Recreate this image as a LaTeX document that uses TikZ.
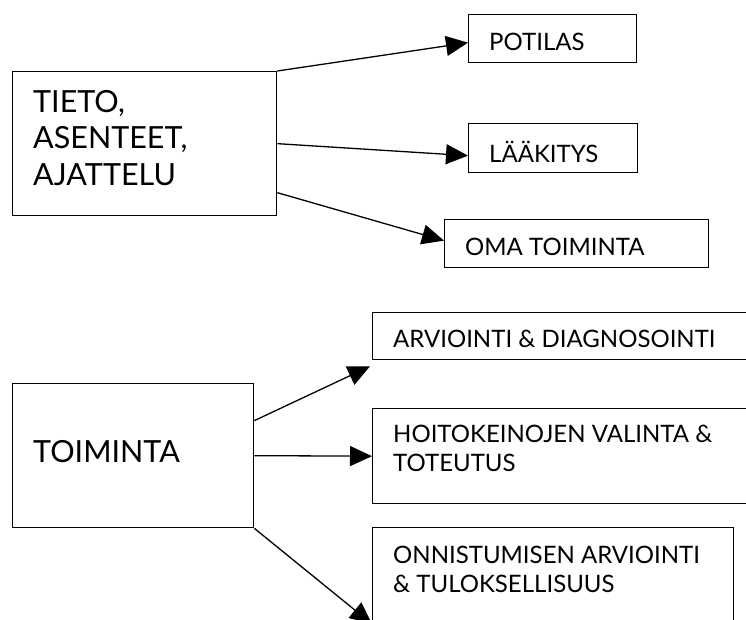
\documentclass[tikz,border=0pt]{standalone}
\usepackage{fontspec}
\setmainfont{Lato}
\usetikzlibrary{arrows.meta,positioning,calc}

\tikzset{
  boks/.style={draw, line width=1.3pt, inner sep=0pt, anchor=north west},
  iso/.style={font=\fontsize{30.5}{36.5}\selectfont, anchor=base west, align=left, inner sep=0pt},
  pieni/.style={font=\fontsize{24}{29}\selectfont, anchor=base west, align=left, inner sep=0pt},
  nuoli/.style={line width=1.3pt, -{Triangle[length=22pt,width=20pt]}}
}

\begin{document}
\begin{tikzpicture}[x=1pt,y=-1pt]
    \useasboundingbox (0,0) rectangle (746,619);
    \clip (0,0) rectangle (746,619);

    % ylempi kaavio
    \node[boks,minimum width=264,minimum height=144] (tieto) at (12,71) {};
    \node[iso] (tietoteksti) at (33,185) {TIETO,\\ASENTEET,\\AJATTELU};
    \node[boks,minimum width=168,minimum height=48] (potilas) at (468,14) {};
    \node[pieni] (potilasteksti) at (489,50) {POTILAS};
    \node[boks,minimum width=169,minimum height=49] (laakitys) at (468,123) {};
    \node[pieni] (laakitysteksti) at (489,162) {LÄÄKITYS};
    \node[boks,minimum width=264,minimum height=48] (oma) at (444,219) {};
    \node[pieni] (omateksti) at (465,255) {OMA TOIMINTA};

    \draw[nuoli] (tieto.north east) -- ([yshift=-4pt]potilas.west);
    \draw[nuoli] (tieto.east) -- ([yshift=-7.5pt]laakitys.west);
    \draw[nuoli] ([yshift=-49pt]tieto.east) -- ([yshift=3pt]oma.west);

    % alempi kaavio
    \node[boks,minimum width=241,minimum height=144] (toiminta) at (12,383) {};
    \node[iso] (toimintateksti) at (33,462) {TOIMINTA};
    \node[boks,minimum width=420,minimum height=47] (arviointi) at (372,312) {};
    \node[pieni] (arviointiteksti) at (393,347) {ARVIOINTI \& DIAGNOSOINTI};
    \node[boks,minimum width=420,minimum height=95] (hoito) at (372,408) {};
    \node[pieni] (hoitoteksti) at (393,471) {HOITOKEINOJEN VALINTA \&\\TOTEUTUS};
    \node[boks,minimum width=361,minimum height=150] (onnistuminen) at (372,527) {};
    \node[pieni] (onnistuminenteksti) at (393,592) {ONNISTUMISEN ARVIOINTI\\\& TULOKSELLISUUS};
    \coordinate (alakulma) at ([yshift=-97pt]onnistuminen.north west);

    \draw[nuoli] ([yshift=35pt]toiminta.east) -- ([shift={(-2pt,-6pt)}]arviointi.south west);
    \draw[nuoli] (toiminta.east) -- (hoito.west);
    \draw[nuoli] (toiminta.south east) -- (alakulma);
\end{tikzpicture}
\end{document}
